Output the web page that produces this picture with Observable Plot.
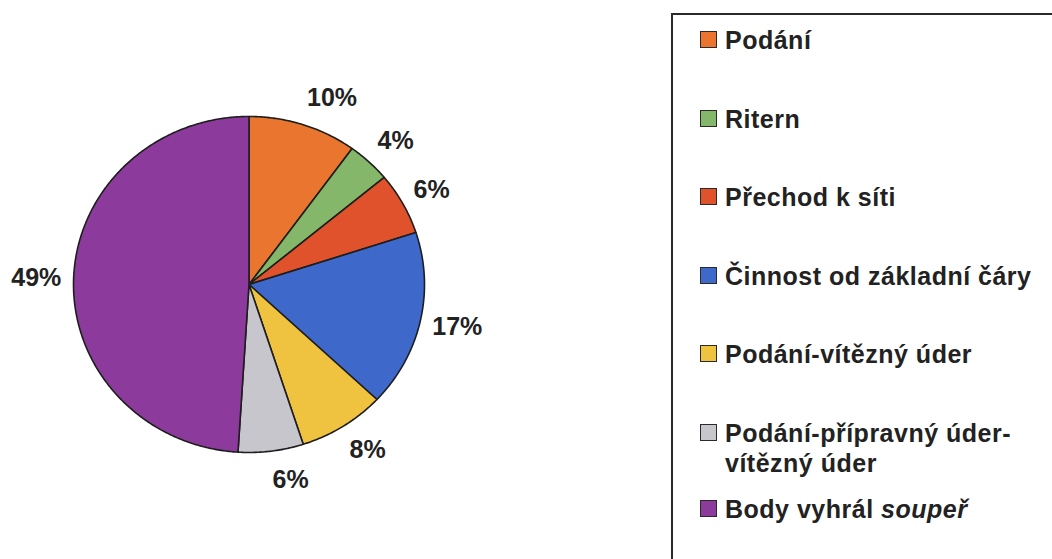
<!DOCTYPE html>
<html>
<head>
<meta charset="utf-8">
<script src="https://cdn.jsdelivr.net/npm/d3@7"></script>
<script src="https://cdn.jsdelivr.net/npm/@observablehq/plot@0.6"></script>
<style>
  html, body { margin: 0; padding: 0; background: #fff; overflow: hidden; }
  #wrap { position: relative; width: 1052px; height: 559px; overflow: hidden; font-family: "Liberation Sans", Arial, Helvetica, sans-serif; }
  #chart { position: absolute; left: 0; top: 0; }
  #legend { position: absolute; left: 671px; top: 13px; width: 420px; height: 600px; border: 2px solid #2a2a2a; box-sizing: border-box; padding-top: 10px; }
  .item { display: flex; align-items: flex-start; margin-left: 27px; margin-bottom: 48.5px; font-weight: bold; font-size: 25px; letter-spacing: 0.5px; line-height: 30px; color: #222; }
  .item.two { margin-bottom: 16px; margin-top: 0px; }
  .sw { flex: 0 0 auto; width: 15px; height: 15px; border: 1.5px solid #2a2a2a; margin-top: 6px; margin-right: 8px; }
</style>
</head>
<body>
<div id="wrap">
  <div id="chart"></div>
  <div id="legend"></div>
</div>
<script>
const categories = [
  "Podání",
  "Ritern",
  "Přechod k síti",
  "Činnost od základní čáry",
  "Podání-vítězný úder",
  "Podání-přípravný úder-vítězný úder",
  "Body vyhrál soupeř"
];
const legendLines = [
  ["Podání"],
  ["Ritern"],
  ["Přechod k síti"],
  ["Činnost od základní čáry"],
  ["Podání-vítězný úder"],
  ["Podání-přípravný úder-", "vítězný úder"],
  ["Body vyhrál <i>soupeř</i>"]
];
const shares = [10, 4, 6, 17, 8, 6, 49];
const shareLabels = ["10%", "4%", "6%", "17%", "8%", "6%", "49%"];
const colors = ["#E9752F", "#84B76A", "#E0522B", "#3E69CA", "#EFC340", "#C6C6CC", "#8C3A9C"];

const total = d3.sum(shares);
const slices = [];
const labelPts = [];
let cum = 0;
shares.forEach((v, i) => {
  const a0 = cum / total * 2 * Math.PI;
  const a1 = (cum + v) / total * 2 * Math.PI;
  cum += v;
  slices.push({cat: categories[i], x: 0, y: 0});
  const n = Math.max(2, Math.ceil((a1 - a0) / (Math.PI / 360)));
  for (let k = 0; k <= n; k++) {
    const a = a0 + (a1 - a0) * k / n;
    slices.push({cat: categories[i], x: Math.sin(a), y: Math.cos(a)});
  }
  const am = (a0 + a1) / 2;
  labelPts.push({
    text: shareLabels[i],
    x: 1.07 * Math.sin(am),
    y: 1.17 * Math.cos(am),
    anchor: Math.sin(am) >= 0 ? "start" : "end"
  });
});

const plot = Plot.plot({
  width: 660,
  height: 559,
  margin: 0,
  x: {domain: [-1, 1], range: [73, 424], axis: null},
  y: {domain: [-1, 1], range: [452, 116], axis: null},
  color: {domain: categories, range: colors},
  style: {fontFamily: "'Liberation Sans', Arial, Helvetica, sans-serif", background: "#fff"},
  marks: [
    Plot.line(slices, {x: "x", y: "y", z: "cat", fill: "cat", stroke: "#1e1e1e", strokeWidth: 1.6, strokeLinejoin: "round", curve: "linear-closed"}),
    Plot.text(labelPts.filter(d => d.anchor === "start"), {x: "x", y: "y", text: "text", fontSize: 25, fontWeight: "bold", fill: "#222", textAnchor: "start"}),
    Plot.text(labelPts.filter(d => d.anchor === "end"), {x: "x", y: "y", text: "text", fontSize: 25, fontWeight: "bold", fill: "#222", textAnchor: "end"})
  ]
});
document.getElementById("chart").appendChild(plot);

const legend = document.getElementById("legend");
categories.forEach((c, i) => {
  const item = document.createElement("div");
  item.className = "item" + (legendLines[i].length > 1 ? " two" : "");
  const sw = document.createElement("div");
  sw.className = "sw";
  sw.style.background = colors[i];
  const txt = document.createElement("div");
  txt.innerHTML = legendLines[i].join("<br>");
  item.appendChild(sw);
  item.appendChild(txt);
  legend.appendChild(item);
});
</script>
</body>
</html>
